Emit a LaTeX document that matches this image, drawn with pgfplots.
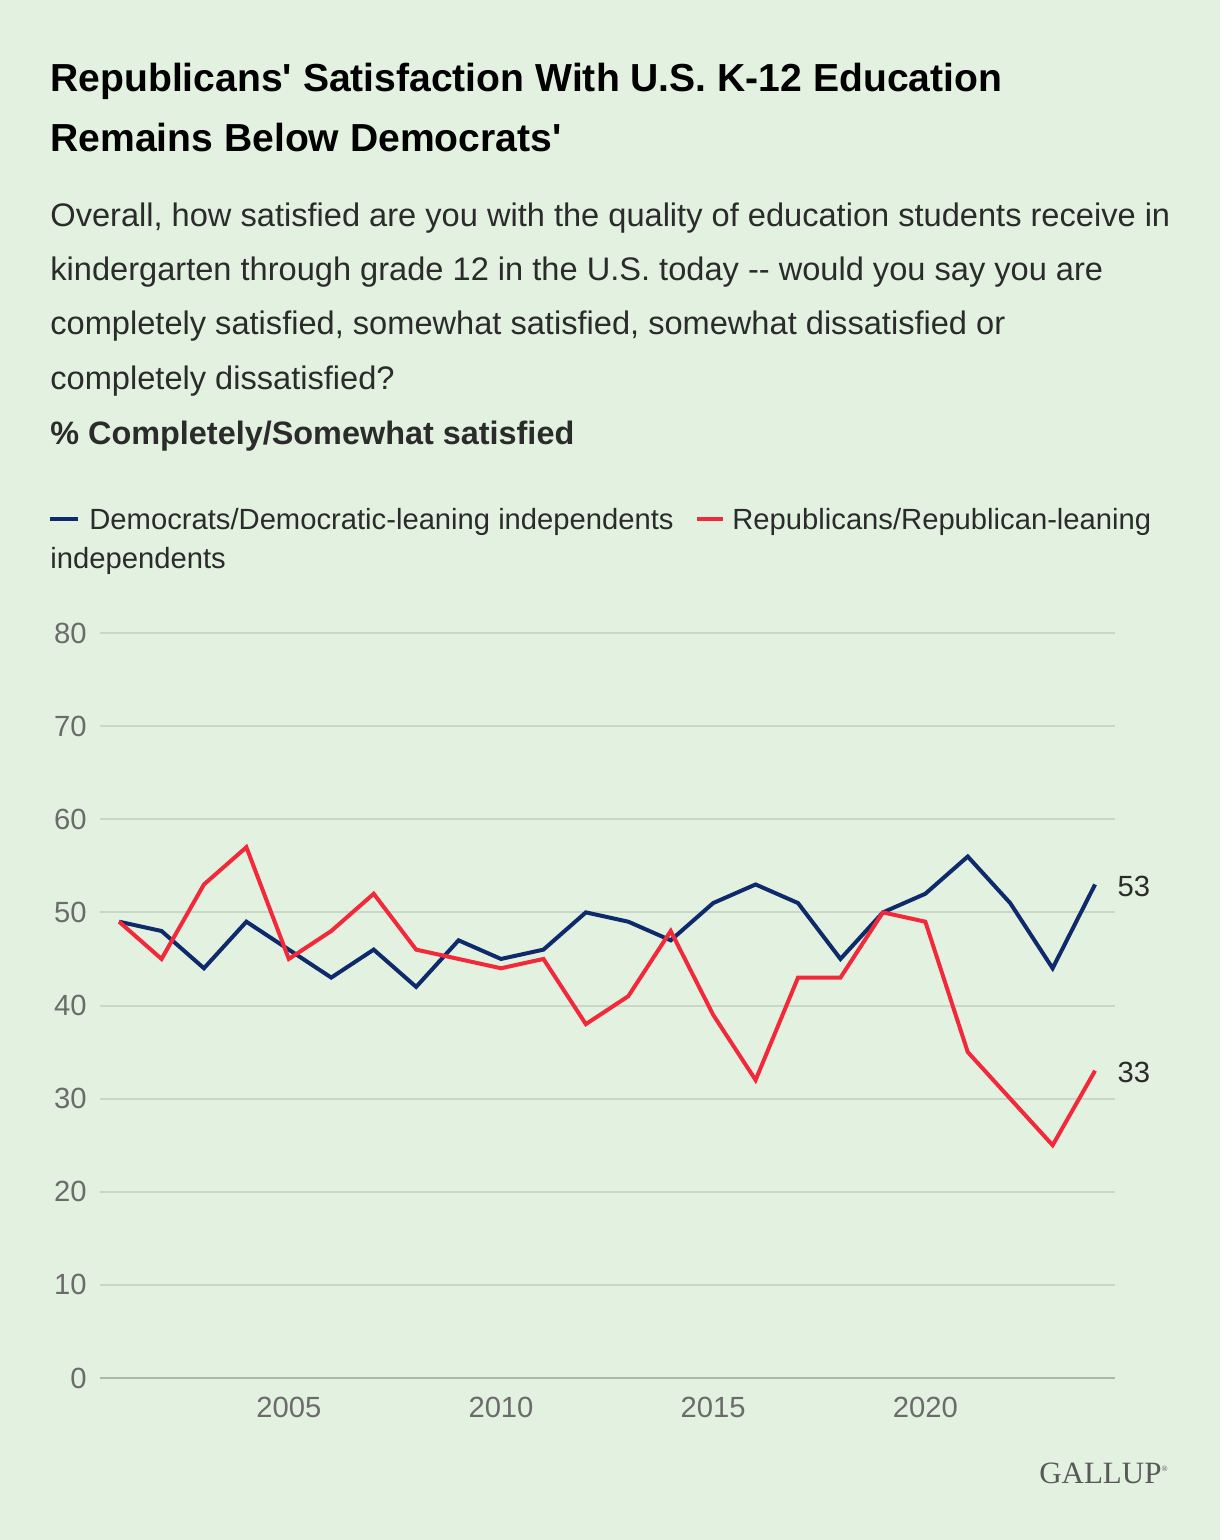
\documentclass[border=0pt]{standalone}
\usepackage{pgfplots}
\pgfplotsset{compat=1.18}
\usepackage{fontspec}
\setmainfont{Liberation Sans}
\newfontfamily\logofont{Liberation Serif}
\definecolor{bg}{HTML}{E3F1E1}
\definecolor{dem}{HTML}{0F2A6B}
\definecolor{rep}{HTML}{F2293B}
\definecolor{gridc}{HTML}{C9D8C6}
\definecolor{txt}{HTML}{2B2B2B}
\definecolor{tick}{HTML}{6B6B6B}
\pgfplotstableread{
year dem rep
2001 49 49
2002 48 45
2003 44 53
2004 49 57
2005 46 45
2006 43 48
2007 46 52
2008 42 46
2009 47 45
2010 45 44
2011 46 45
2012 50 38
2013 49 41
2014 47 48
2015 51 39
2016 53 32
2017 51 43
2018 45 43
2019 50 50
2020 52 49
2021 56 35
2022 51 30
2023 44 25
2024 53 33
}\datatable
\begin{document}
\begin{tikzpicture}
\fill[bg] (0pt,0pt) rectangle (610pt,-770pt);
% title
\node[anchor=base west,inner sep=0pt,font=\bfseries\fontsize{19.55pt}{22pt}\selectfont,text=black] at (25pt,-46pt) {Republicans\textquotesingle{} Satisfaction With U.S. K-12 Education};
\node[anchor=base west,inner sep=0pt,font=\bfseries\fontsize{19.55pt}{22pt}\selectfont,text=black] at (25pt,-76pt) {Remains Below Democrats\textquotesingle};
% subtitle
\begin{scope}[every node/.style={anchor=base west,inner sep=0pt,font=\fontsize{16.3pt}{19pt}\selectfont,text=txt}]
\node at (25pt,-113.5pt) {Overall, how satisfied are you with the quality of education students receive in};
\node at (25pt,-140.5pt) {kindergarten through grade 12 in the U.S. today -{}- would you say you are};
\node at (25pt,-167.5pt) {completely satisfied, somewhat satisfied, somewhat dissatisfied or};
\node at (25pt,-194.5pt) {completely dissatisfied?};
\end{scope}
\node[anchor=base west,inner sep=0pt,font=\bfseries\fontsize{16.2pt}{19pt}\selectfont,text=txt] at (25pt,-222pt) {\% Completely/Somewhat satisfied};
% legend
\begin{scope}[every node/.style={anchor=base west,inner sep=0pt,font=\fontsize{14.6pt}{17pt}\selectfont,text=txt}]
\draw[dem,line width=2pt] (25pt,-259.5pt) -- (39pt,-259.5pt);
\node at (44.5pt,-264.5pt) {Democrats/Democratic-leaning independents};
\draw[rep,line width=2pt] (348.5pt,-259.5pt) -- (361.5pt,-259.5pt);
\node at (366pt,-264.5pt) {Republicans/Republican-leaning};
\node at (25pt,-284pt) {independents};
\end{scope}
\begin{axis}[
  at={(50pt,-689pt)}, anchor=south west,
  scale only axis, width=507.5pt, height=372.5pt,
  xmin=2000.55, xmax=2024.47, ymin=0, ymax=80,
  axis line style={draw=none},
  ytick={0,10,...,80}, xtick={2005,2010,2015,2020},
  xticklabel style={/pgf/number format/1000 sep={}},
  /pgf/number format/assume math mode=true,
  tick style={draw=none},
  ymajorgrids, grid style={gridc, line width=1pt},
  ticklabel style={font=\fontsize{14.6pt}{17pt}\selectfont, text=tick, inner sep=0pt},
  yticklabel style={anchor=east, xshift=-6.5pt},
  xticklabel style={anchor=north, yshift=-9.5pt},
  clip=false,
]
\draw[gridc!85!black, line width=1pt] (axis cs:2000.55,0) -- (axis cs:2024.47,0);
\addplot[dem, line width=2pt, line join=miter] table[x=year,y=dem] {\datatable};
\addplot[rep, line width=2pt, line join=miter] table[x=year,y=rep] {\datatable};
\node[anchor=west, inner sep=0pt, font=\fontsize{14.6pt}{17pt}\selectfont, text=txt] at (axis cs:2024.52,52.8) {53};
\node[anchor=west, inner sep=0pt, font=\fontsize{14.6pt}{17pt}\selectfont, text=txt] at (axis cs:2024.52,32.8) {33};
\end{axis}
\node[anchor=base east,inner sep=0pt,font=\logofont\fontsize{15.5pt}{17pt}\selectfont,text=black!65] at (584pt,-741.5pt) {GALLUP\raisebox{6pt}{\fontsize{4pt}{4pt}\selectfont\textregistered}};
\end{tikzpicture}
\end{document}
